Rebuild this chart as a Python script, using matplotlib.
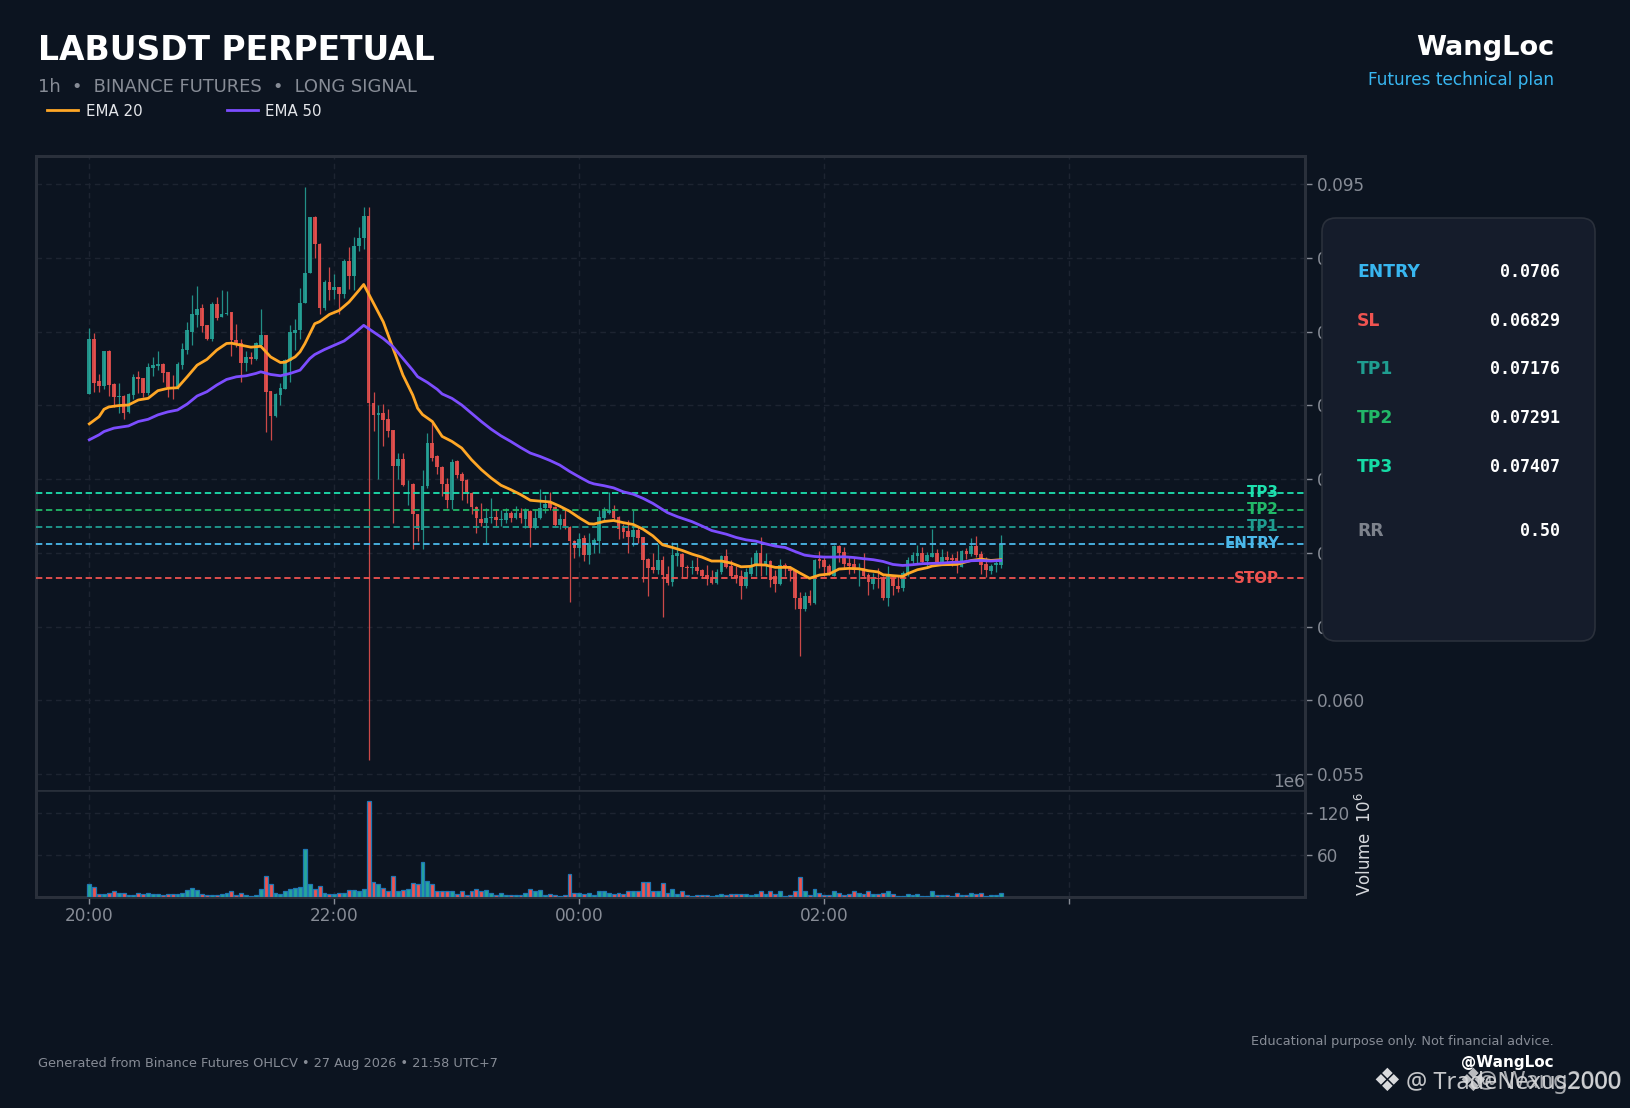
import numpy as np
import matplotlib
matplotlib.use("Agg")
import matplotlib.pyplot as plt
from matplotlib.patches import FancyBboxPatch

plt.rcParams['font.family'] = 'DejaVu Sans'
plt.rcParams['mathtext.fontset'] = 'dejavusans'

W, H = 1631, 1108
BG = '#0c1420'
PANEL = '#151c2b'
FRAME = '#2a303b'
GRID = '#1d2431'
MUTED = '#878c96'
UP = '#26a69a'
DOWN = '#ef5350'
EMA20_COLOR = '#ffa726'
EMA50_COLOR = '#7c4dff'

# prices are read in units of 1e-5 USDT
open_ = [8077,8448,8164,8130,8367,8144,8054,8063,7957,8070,
         8191,8185,8081,8254,8266,8279,8225,8122,8108,8272,
         8374,8497,8610,8657,8542,8452,8684,8599,8619,8630,
         8441,8423,8288,8326,8313,8407,8475,8095,7930,8070,
         8113,8302,8491,8509,8693,8896,9278,9096,8659,8839,
         8781,8799,8754,8981,8875,9078,9132,9285,8014,7937,
         7946,7908,7833,7586,7636,7465,7469,7264,7154,7451,
         7744,7654,7582,7469,7357,7620,7537,7496,7406,7312,
         7231,7199,7235,7240,7222,7222,7271,7235,7267,7226,
         7285,7170,7235,7305,7339,7312,7186,7231,7177,7082,
         7035,7100,6983,7060,7078,7237,7271,7294,7244,7166,
         7148,7109,7154,7105,6956,6902,6884,6950,6855,6803,
         6979,6993,6905,6894,6905,6885,6849,6833,6797,6867,
         6980,6912,6851,6845,6777,6858,6919,7000,6908,6946,
         6840,6788,6919,6903,6874,6694,6620,6710,6660,6957,
         6953,6912,6845,7047,7007,6933,6926,6890,6897,6849,
         6791,6829,6827,6696,6827,6777,6764,6858,6942,6980,
         6998,6942,6971,6998,6937,6971,6966,6966,6903,7014,
         6993,7047,6993,6926,6878,6914,6919]
close = [8448,8153,8130,8367,8137,8059,8063,7950,8077,8189,
         8178,8081,8259,8272,8279,8221,8122,8117,8279,8380,
         8509,8617,8655,8536,8452,8684,8594,8621,8626,8441,
         8423,8288,8326,8313,8423,8475,8092,7930,8077,8117,
         8306,8495,8513,8695,8900,9278,9091,8659,8839,8781,
         8799,8754,8981,8875,9082,9134,9285,8014,7935,7946,
         7901,7829,7586,7636,7462,7469,7262,7163,7456,7744,
         7642,7579,7465,7357,7618,7530,7489,7413,7307,7235,
         7199,7237,7240,7222,7226,7271,7235,7271,7233,7289,
         7170,7237,7305,7334,7305,7188,7231,7181,7078,7030,
         7096,6983,7069,7084,7244,7282,7289,7237,7163,7139,
         7109,7154,7100,6950,6896,6884,6950,6850,6796,6983,
         6997,6901,6894,6905,6878,6845,6822,6797,6872,6980,
         6905,6845,6829,6777,6867,6908,7000,6919,6946,6818,
         6791,6919,6897,6874,6692,6622,6710,6660,6953,6946,
         6903,6863,7043,6998,6926,6912,6885,6894,6845,6800,
         6822,6825,6696,6845,6773,6757,6863,6953,6987,6998,
         6939,6987,6998,6935,6971,6953,6953,6939,7014,6993,
         7047,6984,6919,6885,6912,6928,7061]
high = [8526,8490,8212,8367,8373,8149,8149,8070,8086,8212,
        8232,8185,8284,8324,8367,8284,8227,8203,8293,8419,
        8565,8745,8806,8689,8542,8700,8734,8779,8772,8632,
        8554,8446,8367,8362,8430,8655,8475,8095,8086,8149,
        8317,8542,8587,8797,9481,9278,9280,9098,8851,8936,
        8891,8801,8992,9071,9139,9211,9346,9346,8090,8000,
        8009,7975,7833,7676,7676,7496,7474,7266,7564,7811,
        7879,7665,7586,7507,7636,7627,7546,7500,7410,7316,
        7339,7305,7372,7294,7289,7305,7282,7316,7305,7305,
        7289,7294,7433,7395,7410,7320,7264,7298,7181,7087,
        7132,7118,7136,7102,7289,7312,7410,7325,7249,7193,
        7222,7289,7181,7109,6967,6997,7057,6979,6911,7073,
        7069,6998,6919,6953,6971,6890,6919,6885,6890,6984,
        7025,6948,6912,6885,6894,6971,7020,7104,6998,6948,
        6885,6960,6930,6908,6881,6732,6732,6746,6957,7009,
        6980,6926,7054,7054,7038,6975,6964,6930,6998,6863,
        6863,6894,6845,6908,6845,6840,6874,6971,7002,7054,
        7038,7007,7160,7027,7025,7009,6993,7009,7020,7032,
        7099,7115,7009,6969,6926,6957,7122]
low = [8077,8092,8092,8108,8063,7991,7950,7905,7946,8041,
       8086,8059,8070,8198,8239,8160,8059,8041,8108,8245,
       8347,8407,8531,8497,8441,8437,8581,8599,8610,8335,
       8396,8155,8232,8277,8306,8385,7822,7766,7919,8002,
       8113,8155,8374,8450,8693,8896,8997,8621,8644,8716,
       8722,8621,8727,8790,8783,9049,9060,5593,7829,7500,
       7721,7784,7204,7500,7451,7327,7028,7080,7028,7440,
       7620,7534,7388,7305,7294,7507,7361,7339,7260,7136,
       7181,7069,7204,7181,7181,7204,7208,7226,7204,7170,
       7042,7159,7231,7271,7289,7181,7159,7159,6664,6967,
       6979,6945,6922,6997,7001,7215,7266,7226,7096,7103,
       7001,7046,7069,6803,6704,6862,6855,6562,6780,6772,
       6911,6836,6836,6858,6858,6829,6779,6788,6788,6858,
       6894,6829,6795,6687,6761,6840,6845,6845,6851,6768,
       6732,6784,6840,6809,6620,6300,6604,6649,6656,6897,
       6840,6851,6840,6935,6897,6858,6863,6773,6829,6714,
       6755,6761,6678,6642,6712,6732,6739,6845,6924,6926,
       6926,6897,6971,6919,6919,6919,6908,6863,6903,6957,
       6975,6971,6858,6834,6858,6867,6894]
# volume in millions
volume = [19,15,4,4,6,8,6,6,3,3,
          6,4,6,5,5,3,4,4,5,6,
          10,13,10,4,3,3,3,5,6,9,
          3,6,3,1.5,3,12,30,18,6,5,
          9,12,13,15,69,18,12,16,6,4,
          4,6,6,10,10,9,12,138,22,19,
          13,9,30,9,10,12,20,19,50,23,
          18,9,8,8,8,4,8,3,8,12,
          8,10,6,3,6,3,3,3,3,6,
          12,8,10,3,4,3,1.5,3,33,6,
          6,4,6,3,9,8,6,4,6,4,
          9,9,9,22,22,8,8,20,6,12,
          5,8,3,1.5,3,3,3,1.5,3,5,
          3,4,4,4,4,3,4,9,4,8,
          4,8,1.5,3,9,28,9,3,12,6,
          3,3,8,6,3,4,8,6,4,8,
          4,4,6,9,5,1.5,1.5,5,3,4,
          1.5,1.5,9,3,3,3,1.5,6,3,3,
          6,4,6,1.5,3,3,6]

ema20_idx = [0,2,3,4,6,8,10,12,14,16,18,20,22,24,26,28,29,31,33,35,37,39,40,42,43,44,46,47,49,51,53,55,56,
             60,62,64,66,67,68,70,72,74,76,78,80,82,84,86,88,90,92,94,96,98,100,102,103,105,107,109,111,113,
             115,117,119,121,123,125,127,129,131,133,135,136,138,140,143,145,147,149,151,153,155,157,159,161,
             162,164,166,167,169,171,172,174,177,180,182,184,186]
ema20 = [7874,7923,7973,7989,7998,8002,8036,8047,8099,8115,8119,8194,8272,8311,8374,8419,8421,8407,8394,8400,8328,8290,8292,8328,8362,8418,8553,8567,8616,8643,8700,8778,8819,
         8565,8385,8205,8070,7980,7937,7890,7789,7755,7710,7631,7564,7507,7458,7428,7395,7356,7350,7345,7316,7282,7237,7197,7195,7212,7219,7204,7192,7160,
         7115,7054,7036,7016,6991,6971,6944,6944,6930,6905,6908,6919,6917,6901,6901,6863,6827,6849,6856,6890,6894,6892,6878,6870,
         6851,6845,6840,6858,6885,6899,6910,6919,6921,6948,6957,6948,6953]
ema50_idx = [0,2,3,5,8,10,12,14,16,18,20,22,24,26,28,30,32,34,35,37,39,41,43,45,46,48,50,52,54,56,
             58,60,62,64,66,67,69,71,72,74,76,78,80,82,84,86,88,90,92,94,96,98,100,102,103,105,107,109,111,113,
             115,118,120,123,125,127,130,132,134,136,138,140,142,144,146,148,150,152,154,156,158,160,162,164,
             166,168,170,172,174,176,178,180,182,184,186]
ema50 = [7766,7800,7822,7845,7860,7890,7905,7935,7955,7968,8009,8063,8092,8137,8175,8193,8200,8216,8227,8209,8200,8216,8238,8317,8344,8378,8407,8436,8486,8542,
         8497,8452,8396,8317,8238,8194,8155,8108,8077,8047,8002,7946,7890,7838,7793,7755,7714,7676,7653,7626,7595,7552,7514,7478,7467,7455,7440,7413,7397,7369,
         7335,7272,7245,7211,7182,7151,7126,7104,7088,7079,7061,7045,7036,7009,6984,6975,6971,6971,6973,6968,6960,6953,6941,6921,
         6914,6919,6926,6928,6930,6935,6937,6946,6948,6944,6948]

levels = [0.07407, 0.07291, 0.07176, 0.0706, 0.06829]
level_names = ['TP3', 'TP2', 'TP1', 'ENTRY', 'STOP']
level_colors = ['#1de0ae', '#22b868', '#1f9d90', '#4bb8ea', '#ef5350']

table_names = ['ENTRY', 'SL', 'TP1', 'TP2', 'TP3', 'RR']
table_values = ['0.0706', '0.06829', '0.07176', '0.07291', '0.07407', '0.50']
table_colors = ['#38b6f0', '#ef5350', '#1f9d90', '#22b868', '#16dba6', '#7d828c']
table_rows = [272, 321, 369, 418, 467, 531]

price_ticks = [0.055, 0.060, 0.065, 0.070, 0.075, 0.080, 0.085, 0.090, 0.095]
time_ticks = [0, 50, 100, 150, 200]
time_labels = ['20:00', '22:00', '00:00', '02:00', '']

scale = 1e-5
o = np.array(open_) * scale
c = np.array(close) * scale
h = np.array(high) * scale
l = np.array(low) * scale
v = np.array(volume) * 1e6
x = np.arange(len(o))
up = c >= o


def px_box(left, top, right, bottom):
    return [left / W, 1 - bottom / H, (right - left) / W, (bottom - top) / H]


def fx(px):
    return px / W


def fy(py):
    return 1 - py / H


fig = plt.figure(figsize=(W / 100, H / 100), dpi=100, facecolor=BG)
ax = fig.add_axes(px_box(36, 156, 1305, 791), facecolor=BG)
ax_vol = fig.add_axes(px_box(36, 791, 1305, 897), facecolor=BG, sharex=ax)

# candles
colors = np.where(up, UP, DOWN)
ax.vlines(x, l, h, colors=colors, linewidth=0.9, alpha=0.85, zorder=2)
ax.bar(x, np.maximum(np.abs(c - o), 2e-5), bottom=np.minimum(o, c), width=0.75,
       color=colors, linewidth=0, alpha=0.85, zorder=3)

ax.plot(ema20_idx, np.array(ema20) * scale, color=EMA20_COLOR, lw=2, label='EMA 20', zorder=4)
ax.plot(ema50_idx, np.array(ema50) * scale, color=EMA50_COLOR, lw=2, label='EMA 50', zorder=4)

for lev, name, col in zip(levels, level_names, level_colors):
    ax.axhline(lev, color=col, lw=1.3, ls=(0, (3.5, 2)), zorder=3)
    ax.text(242.8, lev, name, color=col, fontsize=10.8, fontweight='bold',
            ha='right', va='center', zorder=5)

ax.set_xlim(-10.88, 248.1)
ax.set_ylim(0.05385, 0.0969)
ax.set_yticks(price_ticks)
ax.set_yticklabels(['%.3f' % t for t in price_ticks])
ax.yaxis.tick_right()
ax.tick_params(axis='y', colors=MUTED, labelsize=12.2, length=5, width=1, pad=3.5)
ax.tick_params(axis='x', length=0, labelbottom=False)

# volume
ax_vol.bar(x, v, width=0.8, color=colors, edgecolor='#1f77b4', linewidth=0.9, zorder=3)
ax_vol.set_ylim(0, 152e6)
ax_vol.set_yticks([60e6, 120e6])
ax_vol.ticklabel_format(axis='y', style='sci', scilimits=(6, 6))
ax_vol.yaxis.tick_right()
ax_vol.yaxis.set_label_position('right')
ax_vol.set_ylabel('Volume  $10^{6}$', color='#d6d8dc', fontsize=12, labelpad=4)
ax_vol.yaxis.get_offset_text().set_color(MUTED)
ax_vol.yaxis.get_offset_text().set_fontsize(12.2)
ax_vol.tick_params(axis='y', colors=MUTED, labelsize=12.2, length=5, width=1, pad=3.5)
ax_vol.set_xticks(time_ticks)
ax_vol.set_xticklabels(time_labels)
ax_vol.tick_params(axis='x', colors=MUTED, labelsize=12.2, length=5, width=1, pad=2.3)

for a in (ax, ax_vol):
    a.grid(True, color=GRID, lw=1, ls=(0, (4, 3)), zorder=0)
    a.set_axisbelow(True)
    for s in a.spines.values():
        s.set_color(FRAME)
        s.set_linewidth(2.2)
ax.spines['bottom'].set_linewidth(1.2)
ax_vol.spines['top'].set_linewidth(1.2)

# header
fig.text(fx(38), fy(60), 'LABUSDT PERPETUAL', color='white', fontsize=23.8, fontweight='bold', va='baseline')
fig.text(fx(38), fy(92), '1h  •  BINANCE FUTURES  •  LONG SIGNAL', color=MUTED, fontsize=12.9, va='baseline')
fig.text(fx(1554), fy(48), 'WangLoc', color='white', fontsize=19.6, fontweight='bold', ha='right', va='center')
fig.text(fx(1554), fy(80), 'Futures technical plan', color='#38b6f0', fontsize=12.2, ha='right', va='center')

handles, labels = ax.get_legend_handles_labels()
fig.legend(handles, labels, loc='upper left', bbox_to_anchor=(fx(43), fy(99)), ncol=2, frameon=False,
           fontsize=10.8, labelcolor='#e4e6ea', handlelength=2.05, handletextpad=0.5,
           columnspacing=5.65, borderpad=0.3, borderaxespad=0)

# footer
fig.text(fx(38), fy(1064), 'Generated from Binance Futures OHLCV • 27 Aug 2026 • 21:58 UTC+7',
         color=MUTED, fontsize=9.25, va='center')
fig.text(fx(1554), fy(1042), 'Educational purpose only. Not financial advice.',
         color=MUTED, fontsize=9.3, ha='right', va='center')
fig.text(fx(1554), fy(1063), '@WangLoc', color='white', fontsize=11, fontweight='bold', ha='right', va='center')

# watermark, two stamps on top of each other
fig.text(fx(1387), fy(1082), '❖', color='#d9dadc', fontsize=23, ha='center', va='center')
fig.text(fx(1406), fy(1082), '@ TradeNexus2000', color='#d9dadc', fontsize=17, va='center', family='Noto Sans', alpha=0.9)
fig.text(fx(1473), fy(1082), '❖', color='#d9dadc', fontsize=23, ha='center', va='center', alpha=0.85)
fig.text(fx(1622), fy(1082), '@ Wang2000', color='#d9dadc', fontsize=17, ha='right', va='center', family='Noto Sans', alpha=0.75)

# plan panel sits above the price labels
ax_top = fig.add_axes([0, 0, 1, 1], zorder=10)
ax_top.set_xlim(0, W)
ax_top.set_ylim(H, 0)
ax_top.axis('off')
ax_top.add_patch(FancyBboxPatch((1334, 230), 249, 399, boxstyle='round,pad=12,rounding_size=14',
                                facecolor=PANEL, edgecolor=FRAME, linewidth=1.2))
for name, val, col, ry in zip(table_names, table_values, table_colors, table_rows):
    ax_top.text(1357, ry, name, color=col, fontsize=12.3, fontweight='bold', va='center')
    ax_top.text(1560, ry, val, color='white', fontsize=12, fontweight='bold', ha='right', va='center',
                family='DejaVu Sans Mono')

fig.savefig('out.png', dpi=100, facecolor=BG)
